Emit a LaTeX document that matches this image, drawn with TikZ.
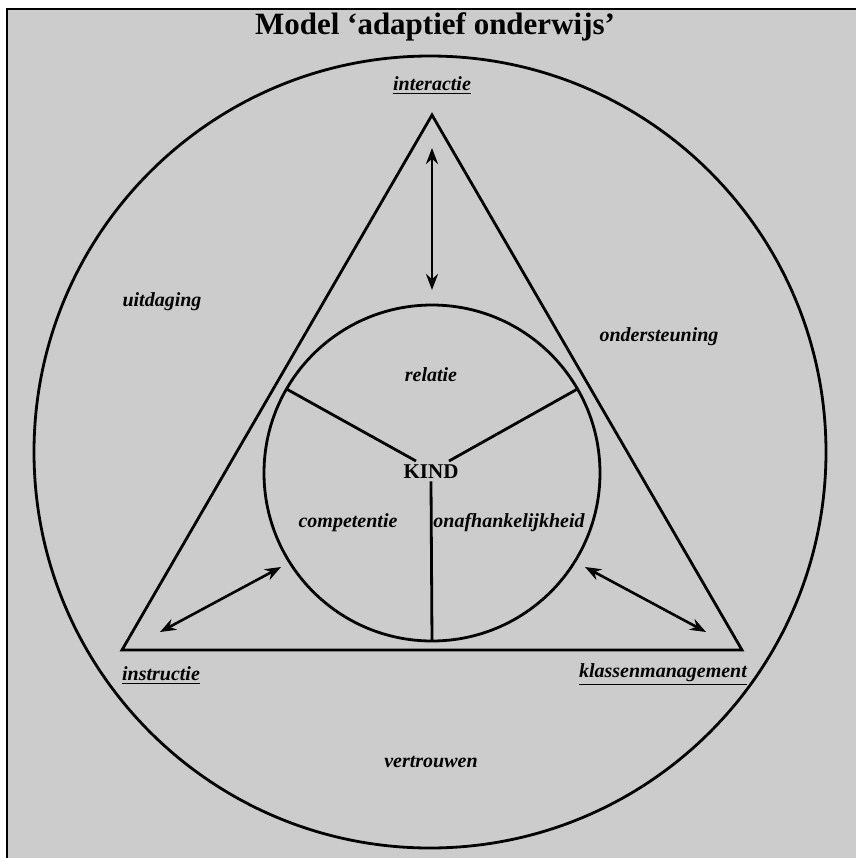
\documentclass[tikz,border=0pt]{standalone}
\usepackage{fontspec}
\setmainfont{Liberation Serif}
\usetikzlibrary{arrows.meta,positioning,calc}
\definecolor{ink}{HTML}{000000}
\definecolor{paper}{HTML}{CCCCCC}

\begin{document}
\begin{tikzpicture}[x=0.5pt,y=-0.5pt,
    lbl/.style={font=\fontsize{10}{12}\selectfont\bfseries\itshape,text=ink,inner sep=1pt},
    ring/.style={draw=ink,line width=1.4pt},
    duo/.style={draw=ink,line width=1.3pt,
                {Stealth[length=8pt,width=6pt]}-{Stealth[length=8pt,width=6pt]}}]
  \useasboundingbox (0,0) rectangle (856,858);
  \fill[white] (0,0) rectangle (856,858);
  \fill[paper] (7,9) rectangle (856,858);
  \draw[ink,line width=1pt] (7,858) -- (7,9) -- (856,9);

  \node[font=\fontsize{15.5}{18}\selectfont\bfseries,text=ink] (title) at (435,27)
    {Model ‘adaptief onderwijs’};

  % outer circle, triangle, inner circle
  \draw[ring] (430,452) circle[radius=396];
  \coordinate (top) at (432,115);
  \coordinate (bl) at (122,650);
  \coordinate (br) at (742,650);
  \draw[ring,line join=miter] (top) -- (bl) -- (br) -- cycle;
  \coordinate (kid) at (432,473);
  \draw[ring] (kid) circle[radius=168];

  \node[font=\fontsize{10.5}{12}\selectfont\bfseries,text=ink,inner sep=1pt] (kind) at (431,472) {KIND};
  \coordinate (kl) at (416,461);
  \coordinate (kr) at (449,461);
  \draw[ring] (kl) -- ($(kid)+(-150:168)$);
  \draw[ring] (kr) -- ($(kid)+(-30:168)$);
  \draw[ring] (kind.south) -- ($(kid)+(90:168)$);

  % double arrows
  \coordinate (a1) at (432,148);
  \coordinate (a2) at (432,290);
  \coordinate (b1) at (160,632);
  \coordinate (b2) at (281,567);
  \coordinate (c1) at (585,567);
  \coordinate (c2) at (706,632);
  \draw[duo] (a1) -- (a2);
  \draw[duo] (b1) -- (b2);
  \draw[duo] (c1) -- (c2);

  % labels
  \node[lbl] (interactie) at (432,86) {\underline{interactie}};
  \node[lbl] (instructie) at (161,676) {\underline{instructie}};
  \node[lbl] (klassen) at (663,675) {\underline{klassenmanagement}};
  \node[lbl] (uitdaging) at (162,302) {uitdaging};
  \node[lbl] (ondersteuning) at (659,337) {ondersteuning};
  \node[lbl] (vertrouwen) at (431,762) {vertrouwen};
  \node[lbl] (relatie) at (431,375) {relatie};
  \node[lbl] (competentie) at (348,523) {competentie};
  \node[lbl] (onafh) at (509,523) {onafhankelijkheid};
\end{tikzpicture}
\end{document}
